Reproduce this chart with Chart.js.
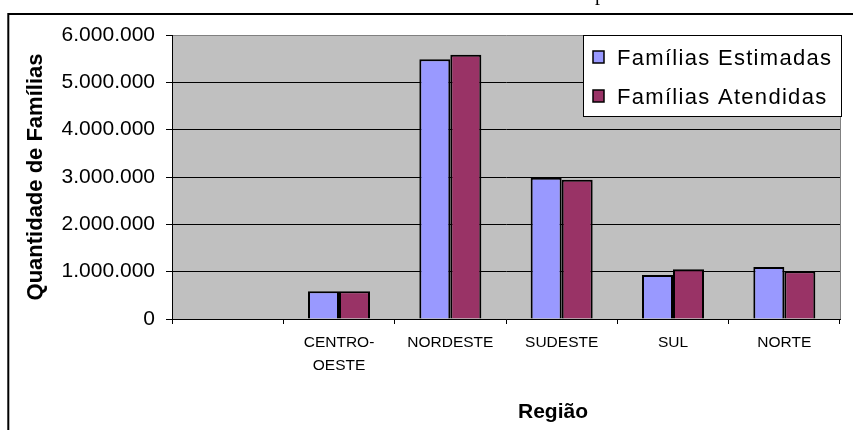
<!DOCTYPE html>
<html><head><meta charset="utf-8">
<script src="https://cdn.jsdelivr.net/npm/chart.js@4.4.1/dist/chart.umd.min.js"></script>
<style>html,body{margin:0;padding:0;background:#fff;} #wrap{width:853px;height:430px;position:relative;}</style>
</head><body><div id="wrap"><canvas id="c" width="853" height="430"></canvas></div>
<script>
const categories = ['', ['CENTRO-', 'OESTE'], 'NORDESTE', 'SUDESTE', 'SUL', 'NORTE'];
const familiasEstimadas = [null, 585000, 5487000, 2985000, 930000, 1099000];
const familiasAtendidas = [null, 585000, 5585000, 2943000, 1050000, 1008000];
const yTicks = [0, 1000000, 2000000, 3000000, 4000000, 5000000, 6000000];
const seriesNames = ['Famílias Estimadas', 'Famílias Atendidas'];
const seriesColors = ['#9999FF', '#993366'];
const axisTitleY = 'Quantidade de Famílias';
const axisTitleX = 'Região';
const titleFragment = 'p';

const fmt = v => String(v).replace(/\B(?=(\d{3})+(?!\d))/g, '.');

const decor = {
  id: 'decor',
  beforeDraw(chart) {
    const {ctx, chartArea: a} = chart;
    ctx.save();
    ctx.fillStyle = '#fff'; ctx.fillRect(0, 0, chart.width, chart.height);
    ctx.fillStyle = '#C0C0C0'; ctx.fillRect(a.left, a.top, a.right - a.left, a.bottom - a.top);
    ctx.restore();
  },
  afterDraw(chart) {
    const {ctx, chartArea: a} = chart;
    ctx.save();
    ctx.strokeStyle = '#808080'; ctx.lineWidth = 1;
    ctx.beginPath(); ctx.moveTo(a.right + 0.5, a.top); ctx.lineTo(a.right + 0.5, a.bottom); ctx.stroke();
    // outer frame
    ctx.strokeStyle = '#000'; ctx.lineWidth = 2;
    ctx.beginPath(); ctx.moveTo(8.3, 440); ctx.lineTo(8.3, 14); ctx.lineTo(870, 14); ctx.stroke();
    // title fragment (cut off above)
    ctx.fillStyle = '#000'; ctx.font = '20px "Liberation Serif"'; ctx.textBaseline = 'alphabetic'; ctx.textAlign = 'left';
    ctx.fillText(titleFragment, 595, 0);
    // x axis title
    ctx.font = 'bold 21px "Liberation Sans", Arial'; ctx.textAlign = 'center';
    ctx.fillText(axisTitleX, 553, 418);
    // legend
    const lx = 583, ly = 35, lw = 258, lh = 81;
    ctx.fillStyle = '#fff'; ctx.fillRect(lx, ly, lw, lh);
    ctx.strokeStyle = '#000'; ctx.lineWidth = 1;
    ctx.strokeRect(lx + 0.5, ly + 0.5, lw, lh);
    const rows = [51, 90];
    chart.data.datasets.forEach((ds, i) => {
      const y = rows[i];
      ctx.fillStyle = ds.backgroundColor;
      ctx.fillRect(593, y, 11, 12);
      ctx.lineWidth = 1.5; ctx.strokeStyle = '#000';
      ctx.strokeRect(593, y, 11, 12);
      ctx.fillStyle = '#000';
      ctx.font = '22px "Liberation Sans", Arial';
      ctx.textAlign = 'left'; ctx.textBaseline = 'alphabetic';
      if ('letterSpacing' in ctx) ctx.letterSpacing = '1.3px';
      ctx.fillText(ds.label, 617, y + 14);
      if ('letterSpacing' in ctx) ctx.letterSpacing = '0px';
    });
    ctx.restore();
  }
};

new Chart(document.getElementById('c'), {
  type: 'bar',
  data: {
    labels: categories,
    datasets: [
      {label: seriesNames[0], data: familiasEstimadas, backgroundColor: seriesColors[0], borderColor: '#000', borderWidth: 2, categoryPercentage: 0.557, barPercentage: 1.0},
      {label: seriesNames[1], data: familiasAtendidas, backgroundColor: seriesColors[1], borderColor: '#000', borderWidth: 2, categoryPercentage: 0.557, barPercentage: 1.0}
    ]
  },
  options: {
    responsive: false,
    animation: false,
    devicePixelRatio: 1,
    layout: {padding: {top: 35, right: 13, left: 0, bottom: 0}},
    plugins: {legend: {display: false}, tooltip: {enabled: false}, title: {display: false}},
    scales: {
      x: {
        grid: {display: true, drawOnChartArea: false, drawTicks: true, tickLength: 5, color: '#000', tickColor: '#000', offset: true},
        border: {display: true, color: '#000', width: 1},
        ticks: {color: '#000', font: {family: '"Liberation Sans", Arial', size: 15.5, lineHeight: 1.43}, padding: 8, maxRotation: 0, autoSkip: false},
        afterFit: s => { s.height = 111; }
      },
      y: {
        min: 0, max: 6000000,
        afterBuildTicks: s => { s.ticks = yTicks.map(v => ({value: v})); },
        grid: {color: c => (c.tick && c.tick.value === 6000000) ? '#808080' : '#000', lineWidth: 1, drawTicks: true, tickLength: 6, tickColor: '#000'},
        border: {display: true, color: '#000', width: 1},
        ticks: {color: '#000', font: {family: '"Liberation Sans", Arial', size: 21}, padding: 11, callback: v => fmt(v)},
        title: {display: true, text: axisTitleY, color: '#000', font: {family: '"Liberation Sans", Arial', size: 22, weight: 'bold'}, padding: {top: 23, bottom: 0}},
        afterFit: s => { s.width = 172; }
      }
    }
  },
  plugins: [decor]
});
</script>
</body></html>
